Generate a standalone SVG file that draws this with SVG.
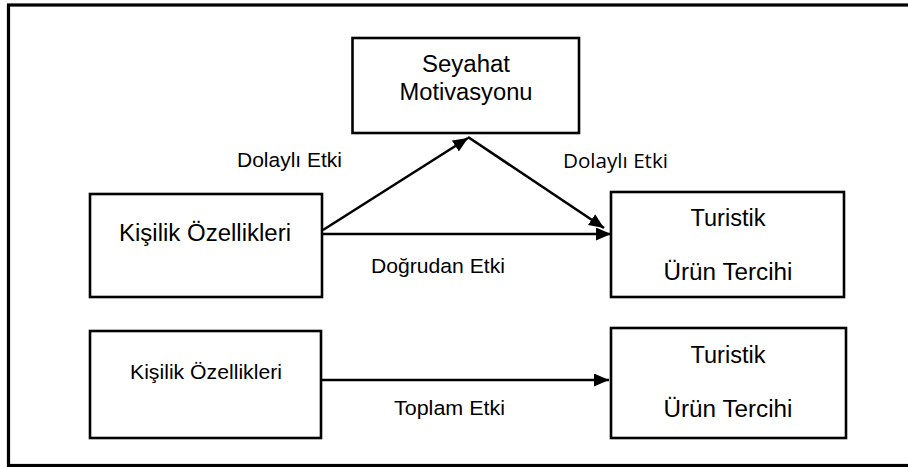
<svg xmlns="http://www.w3.org/2000/svg" width="908" height="467" viewBox="0 0 908 467">
<style>
.box{fill:#fff;stroke:#000;stroke-width:2.6}
.t{font-family:"Liberation Sans",Arial,sans-serif;fill:#000}
.c{font-family:"Open Sans","Noto Sans",sans-serif;fill:#000}
.con{stroke:#000;stroke-width:2.6;fill:none}
</style>
<defs>
<marker id="ah" markerUnits="userSpaceOnUse" markerWidth="16" markerHeight="14" refX="15" refY="6.5" orient="auto">
<path d="M0,0 L15,6.5 L0,13 z" fill="#000"/>
</marker>
</defs>
<rect x="8.5" y="5" width="1000" height="460.5" fill="#fff" stroke="#000" stroke-width="3.2"/>
<g id="connectors">
<line class="con" x1="323" y1="230" x2="468" y2="138" marker-end="url(#ah)"/>
<line class="con" x1="468" y1="137" x2="604" y2="228" marker-end="url(#ah)"/>
<line class="con" x1="323" y1="234" x2="611" y2="234" marker-end="url(#ah)"/>
<line class="con" x1="321" y1="380" x2="609" y2="380" marker-end="url(#ah)"/>
</g>
<g id="seyahat">
<rect class="box" x="352.5" y="38" width="226.5" height="95"/>
<text class="t" x="466" y="72" font-size="23" textLength="88" lengthAdjust="spacingAndGlyphs" text-anchor="middle">Seyahat</text>
<text class="t" x="466" y="100" font-size="23" textLength="133" lengthAdjust="spacingAndGlyphs" text-anchor="middle">Motivasyonu</text>
</g>
<g id="kisilik1">
<rect class="box" x="90" y="194" width="232" height="103"/>
<text class="t" x="119" y="241" font-size="23" textLength="172" lengthAdjust="spacingAndGlyphs">Kişilik Özellikleri</text>
</g>
<g id="turistik1">
<rect class="box" x="611" y="192" width="233" height="105"/>
<text class="t" x="728" y="226" font-size="23" textLength="75" lengthAdjust="spacingAndGlyphs" text-anchor="middle">Turistik</text>
<text class="t" x="728" y="280" font-size="23" textLength="129" lengthAdjust="spacingAndGlyphs" text-anchor="middle">Ürün Tercihi</text>
</g>
<g id="kisilik2">
<rect class="box" x="90" y="331" width="231" height="107"/>
<text class="t" x="130" y="379" font-size="20.5" textLength="152" lengthAdjust="spacingAndGlyphs">Kişilik Özellikleri</text>
</g>
<g id="turistik2">
<rect class="box" x="611" y="328" width="235" height="110"/>
<text class="t" x="728" y="363" font-size="23" textLength="75" lengthAdjust="spacingAndGlyphs" text-anchor="middle">Turistik</text>
<text class="t" x="728" y="417" font-size="23" textLength="129" lengthAdjust="spacingAndGlyphs" text-anchor="middle">Ürün Tercihi</text>
</g>
<g id="labels">
<text class="t" x="237" y="167" font-size="20.5" textLength="105" lengthAdjust="spacingAndGlyphs">Dolaylı Etki</text>
<text class="c" x="563" y="168" font-size="20" textLength="105" lengthAdjust="spacingAndGlyphs">Dolaylı Etki</text>
<text class="t" x="371" y="273" font-size="20.5" textLength="134" lengthAdjust="spacingAndGlyphs">Doğrudan Etki</text>
<text class="t" x="394" y="415" font-size="20.5" textLength="111" lengthAdjust="spacingAndGlyphs">Toplam Etki</text>
</g>
</svg>
